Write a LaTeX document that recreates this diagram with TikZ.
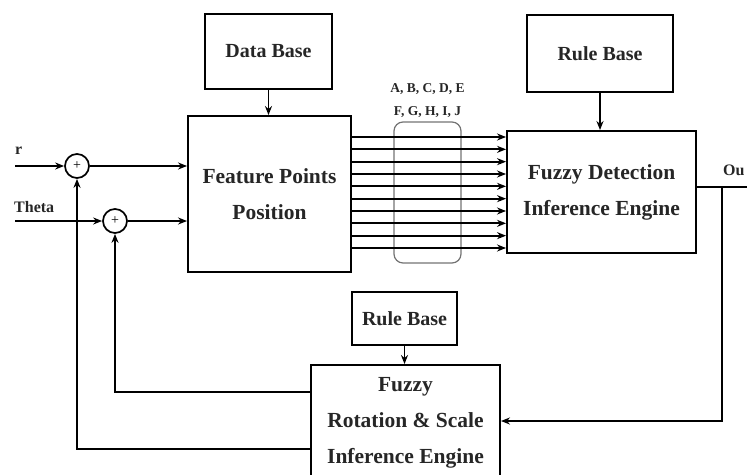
\documentclass[tikz,border=0pt]{standalone}
\usepackage{fontspec}
\setmainfont{Liberation Serif}
\usetikzlibrary{arrows.meta}
\begin{document}
\begin{tikzpicture}[x=1pt,y=-1pt,
  box/.style={draw, line width=1.9pt, inner sep=0pt, align=center, text=black!85},
  bigtxt/.style={font=\bfseries\fontsize{21.5}{36}\selectfont},
  smalltxt/.style={font=\bfseries\fontsize{20}{36}\selectfont},
  arr/.style={-{Stealth[length=9pt,width=7pt]}, line width=1.7pt},
  ln/.style={line width=1.7pt},
  sumnode/.style={draw, circle, line width=1.7pt, minimum size=24pt, inner sep=0pt, font=\fontsize{14}{14}\selectfont},
  lab/.style={font=\bfseries\fontsize{16}{18}\selectfont, inner sep=0pt, text=black!85},
  tiny/.style={font=\bfseries\fontsize{13.5}{23}\selectfont, inner sep=0pt, align=center, text=black!85}
]
\useasboundingbox (0,0) rectangle (747,474);

% boxes
\node[box, smalltxt, minimum width=127pt, minimum height=75pt] (db) at (268.5,51.5) {Data Base};
\node[box, bigtxt, minimum width=163pt, minimum height=156pt] (fp) at (269.5,194) {Feature Points\\Position};
\node[box, smalltxt, minimum width=146pt, minimum height=77pt] (rb1) at (600,53.5) {Rule Base};
\node[box, bigtxt, minimum width=189pt, minimum height=122pt] (fd) at (601.5,192) {Fuzzy Detection\\Inference Engine};
\node[box, smalltxt, minimum width=105pt, minimum height=53pt] (rb2) at (404.5,318.5) {Rule Base};
\node[box, bigtxt, minimum width=189pt, minimum height=115pt] (rot) at (405.5,422.5) {Fuzzy\\Rotation \& Scale\\Inference Engine};

% summing junctions
\node[sumnode] (s1) at (77,166) {+};
\node[sumnode] (s2) at (115,221) {+};

% inputs
\coordinate (rin) at (15,166);
\coordinate (thin) at (15,221);
\node[lab, anchor=west] (rlab) at (15,151) {r};
\node[lab, anchor=west] (thlab) at (14,207) {Theta};
\draw[arr] (rin) -- (s1.west);
\draw[arr] (thin) -- (s2.west);
\draw[arr] (s1.east) -- (fp.west |- s1);
\draw[arr] (s2.east) -- (fp.west |- s2);

% base arrows
\draw[arr] (db.south) -- (db.south |- fp.north);
\draw[arr] (rb1.south) -- (rb1.south |- fd.north);
\draw[arr] (rb2.south) -- (rb2.south |- rot.north);

% bundle of ten signals
\node[draw, black!55, line width=1.2pt, rounded corners=9pt, minimum width=67pt, minimum height=141pt] (grp) at (427.5,192.5) {};
\foreach \i [evaluate=\i as \yy using 137+12.333*\i] in {0,...,9}
  \draw[arr] (fp.east |- 0,\yy) -- (fd.west |- 0,\yy);
\node[tiny] (labs) at (427.5,100.5) {A, B, C, D, E\\F, G, H, I, J};

% output and feedback
\coordinate (oend) at (747,187);
\coordinate (tap) at (722,187);
\draw[ln] (fd.east |- oend) -- (oend);
\node[lab, anchor=west] (outlab) at (723,170) {Ou};
\draw[arr] (tap) |- (rot.east |- 0,421);
\draw[arr] (rot.west |- 0,392) -| (s2.south);
\draw[arr] (rot.west |- 0,449) -| (s1.south);
\end{tikzpicture}
\end{document}
